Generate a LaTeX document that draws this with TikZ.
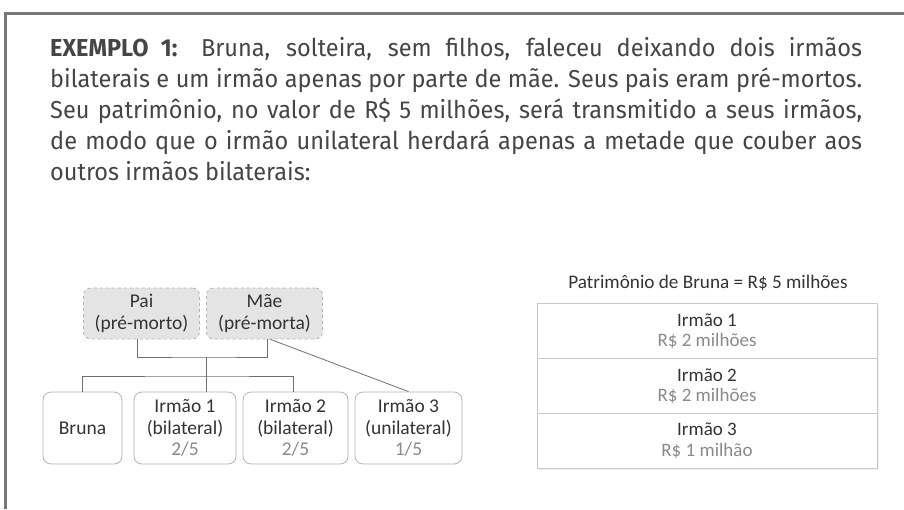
\documentclass[tikz,border=0pt]{standalone}
\usepackage{fontspec}
\setmainfont[FakeStretch=0.96]{Fira Sans}
\newfontfamily\diag{Carlito}
\definecolor{frameg}{HTML}{777777}
\definecolor{bodyc}{HTML}{454545}
\definecolor{dark}{HTML}{333333}
\definecolor{light}{HTML}{8A8A8A}
\definecolor{boxb}{HTML}{B4B4B4}
\definecolor{parfill}{HTML}{E4E4E4}
\definecolor{tabb}{HTML}{C8C8C8}
\definecolor{linec}{HTML}{6E6E6E}
\newcommand{\jline}[1]{\makebox[812pt][s]{#1}}
\begin{document}
\begin{tikzpicture}[x=1pt,y=-1pt,
  frame/.style={draw=frameg,line width=3pt},
  body/.style={anchor=base west,inner sep=0pt,text=bodyc,font=\fontsize{24.5}{31}\selectfont},
  parent/.style={draw=boxb,dashed,fill=parfill,rounded corners=7pt,line width=0.8pt,
    minimum width=116pt,minimum height=51pt,inner sep=0pt,align=center,text=dark,
    font=\diag\fontsize{19.5}{22}\selectfont},
  child/.style={draw=boxb,fill=white,rounded corners=8pt,line width=0.8pt,
    minimum height=72pt,inner sep=0pt,align=center,text=dark,
    font=\diag\fontsize{19.5}{21.5}\selectfont},
  row/.style={draw=tabb,line width=1pt,minimum width=340pt,minimum height=54.7pt,inner sep=0pt,
    align=center,text=dark,font=\diag\fontsize{19}{20.5}\selectfont},
  conn/.style={draw=linec,line width=0.8pt}
]
\useasboundingbox (0,0) rectangle (904,509);
\draw[frame] (5,509) -- (5,13) -- (904,13);

\node[body] (l1) at (50,56) {\jline{\textbf{EXEMPLO 1:} Bruna, solteira, sem filhos, faleceu deixando dois irmãos}};
\node[body] (l2) at (50,87) {\jline{bilaterais e um irmão apenas por parte de mãe. Seus pais eram pré-mortos.}};
\node[body] (l3) at (50,118) {\jline{Seu patrimônio, no valor de R\$ 5 milhões, será transmitido a seus irmãos,}};
\node[body] (l4) at (50,149) {\jline{de modo que o irmão unilateral herdará apenas a metade que couber aos}};
\node[body] (l5) at (50,180) {outros irmãos bilaterais:};

\node[parent] (pai) at (141.5,313.5) {Pai\\(pré-morto)};
\node[parent] (mae) at (264.5,313.5) {Mãe\\(pré-morta)};

\node[child,minimum width=79pt] (bruna) at (82.5,428) {Bruna};
\node[child,minimum width=102pt] (i1) at (185,428) {Irmão 1\\(bilateral)\\{\color{light}2/5}};
\node[child,minimum width=105pt] (i2) at (295.5,428) {Irmão 2\\(bilateral)\\{\color{light}2/5}};
\node[child,minimum width=107pt] (i3) at (408.5,428) {Irmão 3\\(unilateral)\\{\color{light}1/5}};

\coordinate (j1) at (206,357);
\coordinate (j2) at (206,376);
\draw[conn] ([xshift=-4.5pt]pai.south) |- (j1) -| ([xshift=2.5pt]mae.south);
\draw[conn] (j1) -- (j1 |- i1.north);
\draw[conn] (bruna.north) |- (j2) -| ([xshift=-2.5pt]i2.north);
\draw[conn] ([xshift=6pt]mae.south) -- (i3.north);

\node[anchor=base,inner sep=0pt,text=dark,font=\diag\fontsize{19.2}{20}\selectfont] (tt) at (708,288) {Patrimônio de Bruna = R\$ 5 milhões};
\fill[black!6] (539,306) rectangle (879,470);
\node[row,fill=white] (r1) at (707,331.3) {Irmão 1\\{\color{light}R\$ 2 milhões}};
\node[row,fill=white] (r2) at (707,386) {Irmão 2\\{\color{light}R\$ 2 milhões}};
\node[row,fill=white] (r3) at (707,440.7) {Irmão 3\\{\color{light}R\$ 1 milhão}};
\end{tikzpicture}
\end{document}
